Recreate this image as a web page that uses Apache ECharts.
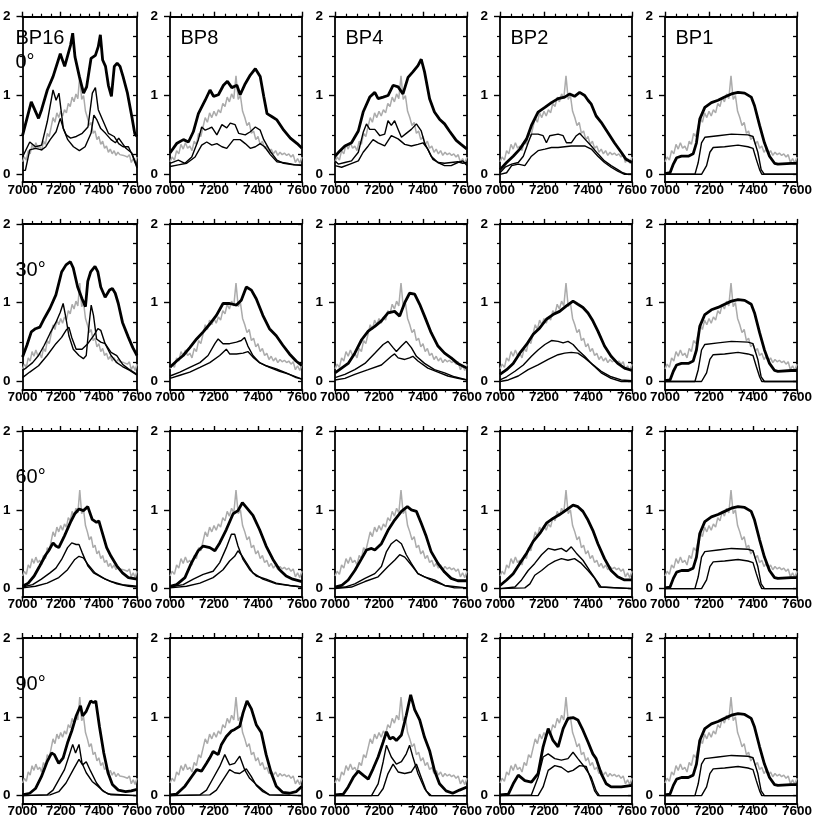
<!DOCTYPE html>
<html>
<head>
<meta charset="utf-8">
<script src="https://cdn.jsdelivr.net/npm/echarts@6/dist/echarts.min.js"></script>
<style>
html,body{margin:0;padding:0;background:#fff;}
#chart{width:830px;height:832px;}
</style>
</head>
<body>
<div id="chart"></div>
<script>
// ---------------- DATA ----------------
const xTicks = [7000, 7200, 7400, 7600];
const yTickLabels = [0, 1, 2];
const yMinorTicks = [0.25, 0.5, 0.75, 1.25, 1.5, 1.75];
const colTitles = ["BP16", "BP8", "BP4", "BP2", "BP1"];
const rowTitles = ["0°", "30°", "60°", "90°"];

// reference spectrum (gray), same in every panel
const gray = [[7000,0.16],[7010,0.22],[7020,0.18],[7030,0.30],[7040,0.26],[7050,0.38],[7060,0.32],[7070,0.40],[7080,0.33],[7090,0.36],
[7100,0.30],[7110,0.42],[7120,0.38],[7130,0.52],[7140,0.48],[7150,0.60],[7160,0.72],[7170,0.66],[7180,0.78],[7190,0.72],
[7200,0.80],[7210,0.74],[7220,0.82],[7230,0.78],[7240,0.90],[7250,0.86],[7260,0.98],[7270,0.92],[7280,1.02],[7290,0.96],
[7300,1.25],[7310,0.95],[7320,1.00],[7330,0.80],[7340,0.72],[7350,0.62],[7360,0.66],[7370,0.52],[7380,0.55],[7390,0.44],
[7400,0.48],[7410,0.38],[7420,0.42],[7430,0.33],[7440,0.36],[7450,0.28],[7460,0.32],[7470,0.26],[7480,0.30],[7490,0.24],
[7500,0.28],[7510,0.25],[7520,0.27],[7530,0.24],[7540,0.26],[7550,0.22],[7560,0.25],[7570,0.15],[7580,0.20],[7590,0.14],[7600,0.22]];

// Row 0 deg
const bp16_0_thick = [[7000,0.49],[7046,0.92],[7084,0.71],[7100,0.82],[7130,1.07],[7160,1.24],[7198,1.53],[7221,1.37],[7237,1.51],[7252,1.64],[7263,1.79],[7275,1.49],[7298,1.24],[7320,1.03],[7336,1.11],[7359,1.47],[7382,1.51],[7397,1.62],[7408,1.77],[7420,1.45],[7435,1.37],[7450,1.13],[7466,0.99],[7481,1.37],[7496,1.41],[7511,1.37],[7527,1.24],[7550,1.03],[7573,0.73],[7588,0.52],[7600,0.48]];
const bp16_0_a = [[7000,0.22],[7038,0.41],[7068,0.35],[7100,0.37],[7130,0.67],[7160,1.07],[7176,0.94],[7191,1.03],[7214,0.58],[7229,0.50],[7252,0.46],[7282,0.48],[7313,0.52],[7343,0.60],[7366,1.03],[7382,1.10],[7397,0.82],[7420,0.69],[7450,0.52],[7480,0.48],[7504,0.39],[7527,0.35],[7555,0.35],[7580,0.22],[7600,0.10]];
const bp16_0_b = [[7000,0.05],[7015,0.05],[7038,0.31],[7068,0.33],[7100,0.31],[7122,0.35],[7145,0.44],[7176,0.54],[7198,0.71],[7214,0.58],[7237,0.44],[7267,0.35],[7298,0.30],[7328,0.35],[7359,0.52],[7374,0.75],[7390,0.69],[7410,0.58],[7435,0.52],[7464,0.44],[7487,0.40],[7504,0.46],[7542,0.33],[7573,0.27],[7600,0.08]];

const bp8_0_thick = [[7000,0.27],[7030,0.39],[7061,0.44],[7084,0.41],[7106,0.54],[7129,0.77],[7160,0.94],[7182,1.07],[7198,0.99],[7220,1.01],[7243,1.13],[7261,1.18],[7281,1.10],[7304,1.13],[7319,1.01],[7342,1.15],[7365,1.26],[7388,1.34],[7410,1.24],[7426,0.99],[7441,0.77],[7464,0.73],[7486,0.69],[7517,0.56],[7547,0.46],[7578,0.39],[7600,0.33]];
const bp8_0_a = [[7000,0.14],[7038,0.18],[7068,0.14],[7099,0.22],[7129,0.44],[7144,0.60],[7160,0.56],[7176,0.58],[7190,0.60],[7213,0.50],[7236,0.63],[7258,0.59],[7274,0.65],[7296,0.63],[7312,0.52],[7342,0.50],[7365,0.54],[7388,0.60],[7410,0.56],[7426,0.44],[7456,0.29],[7486,0.18],[7517,0.14],[7562,0.12],[7600,0.12]];
const bp8_0_b = [[7000,0.10],[7038,0.12],[7076,0.14],[7114,0.22],[7144,0.37],[7167,0.41],[7190,0.37],[7213,0.39],[7236,0.35],[7258,0.33],[7289,0.44],[7319,0.44],[7342,0.39],[7365,0.33],[7388,0.35],[7410,0.39],[7430,0.35],[7456,0.25],[7486,0.16],[7532,0.14],[7570,0.12],[7600,0.11]];

const bp4_0_thick = [[7000,0.23],[7023,0.30],[7045,0.36],[7075,0.40],[7106,0.55],[7128,0.79],[7158,0.98],[7181,1.04],[7196,0.96],[7219,0.98],[7241,1.00],[7264,1.13],[7287,1.11],[7309,1.02],[7332,1.23],[7354,1.30],[7377,1.38],[7392,1.46],[7407,1.30],[7430,0.96],[7452,0.79],[7475,0.70],[7498,0.64],[7520,0.55],[7551,0.43],[7573,0.38],[7600,0.32]];
const bp4_0_a = [[7000,0.17],[7015,0.13],[7045,0.15],[7075,0.17],[7106,0.28],[7128,0.53],[7143,0.64],[7158,0.57],[7181,0.57],[7204,0.49],[7226,0.51],[7241,0.68],[7256,0.62],[7271,0.68],[7287,0.57],[7302,0.47],[7324,0.52],[7347,0.57],[7370,0.64],[7392,0.55],[7407,0.40],[7437,0.23],[7468,0.15],[7498,0.11],[7528,0.11],[7558,0.15],[7581,0.17],[7600,0.11]];
const bp4_0_b = [[7000,0.11],[7030,0.09],[7068,0.13],[7106,0.17],[7128,0.28],[7151,0.36],[7173,0.44],[7196,0.40],[7226,0.36],[7256,0.49],[7287,0.45],[7317,0.38],[7347,0.36],[7377,0.38],[7400,0.40],[7422,0.32],[7445,0.19],[7468,0.15],[7498,0.14],[7528,0.15],[7558,0.16],[7581,0.14],[7600,0.15]];

const bp2_0_thick = [[7000,0.06],[7030,0.15],[7060,0.23],[7090,0.32],[7121,0.45],[7143,0.62],[7173,0.79],[7204,0.85],[7234,0.91],[7264,0.96],[7294,0.98],[7317,1.02],[7339,0.99],[7362,1.04],[7385,1.00],[7400,0.94],[7415,0.89],[7437,0.74],[7460,0.66],[7490,0.53],[7520,0.40],[7551,0.28],[7573,0.19],[7600,0.15]];
const bp2_0_a = [[7000,0.02],[7023,0.09],[7053,0.13],[7083,0.15],[7106,0.23],[7128,0.40],[7143,0.51],[7173,0.51],[7196,0.49],[7211,0.40],[7226,0.49],[7264,0.51],[7287,0.49],[7302,0.40],[7324,0.40],[7347,0.49],[7362,0.52],[7385,0.45],[7415,0.36],[7445,0.26],[7475,0.17],[7505,0.11],[7535,0.06],[7558,0.02],[7581,0.0],[7600,0.0]];
const bp2_0_b = [[7000,0.0],[7030,0.02],[7053,0.11],[7083,0.13],[7113,0.11],[7143,0.23],[7173,0.30],[7204,0.32],[7234,0.34],[7264,0.34],[7294,0.35],[7324,0.36],[7354,0.36],[7385,0.36],[7415,0.32],[7445,0.23],[7475,0.15],[7505,0.09],[7535,0.04],[7566,0.0],[7600,0.0]];

// BP1 is the same at every angle
const bp1_thick = [[7000,0.01],[7023,0.02],[7038,0.13],[7053,0.21],[7075,0.23],[7106,0.23],[7128,0.26],[7143,0.40],[7158,0.70],[7181,0.85],[7211,0.91],[7241,0.94],[7271,0.98],[7302,1.02],[7332,1.04],[7362,1.03],[7392,0.98],[7407,0.87],[7430,0.62],[7452,0.40],[7475,0.23],[7498,0.14],[7513,0.13],[7573,0.14],[7600,0.14]];
const bp1_a = [[7000,0],[7136,0],[7151,0.15],[7166,0.40],[7181,0.47],[7241,0.49],[7302,0.51],[7377,0.50],[7400,0.48],[7422,0.28],[7437,0.06],[7452,0],[7600,0]];
const bp1_b = [[7000,0],[7166,0],[7189,0.11],[7204,0.28],[7219,0.34],[7271,0.35],[7332,0.37],[7377,0.35],[7400,0.33],[7415,0.19],[7430,0.06],[7440,0],[7600,0]];

// Row 30 deg
const bp16_30_thick = [[7000,0.31],[7023,0.46],[7046,0.63],[7068,0.67],[7091,0.69],[7114,0.80],[7144,0.93],[7175,1.10],[7205,1.39],[7228,1.48],[7251,1.52],[7266,1.44],[7289,1.20],[7312,1.05],[7330,0.95],[7342,1.27],[7357,1.39],[7380,1.46],[7395,1.39],[7410,1.20],[7433,1.07],[7456,1.16],[7471,1.18],[7486,1.12],[7502,0.99],[7524,0.75],[7555,0.56],[7578,0.43],[7600,0.33]];
const bp16_30_a = [[7000,0.14],[7023,0.18],[7053,0.24],[7084,0.33],[7114,0.46],[7144,0.61],[7175,0.75],[7198,0.88],[7213,0.99],[7228,0.80],[7243,0.58],[7266,0.41],[7296,0.33],[7319,0.29],[7334,0.33],[7350,0.75],[7360,0.97],[7372,0.84],[7388,0.54],[7410,0.50],[7433,0.48],[7464,0.37],[7494,0.33],[7524,0.22],[7555,0.16],[7600,0.09]];
const bp16_30_b = [[7000,0.05],[7038,0.12],[7084,0.20],[7129,0.33],[7175,0.48],[7205,0.56],[7228,0.65],[7243,0.69],[7258,0.56],[7281,0.41],[7312,0.41],[7342,0.48],[7372,0.58],[7395,0.67],[7410,0.65],[7433,0.48],[7464,0.33],[7494,0.24],[7524,0.19],[7562,0.14],[7600,0.08]];

const bp8_30_thick = [[7000,0.18],[7030,0.26],[7060,0.33],[7090,0.43],[7121,0.54],[7151,0.63],[7181,0.73],[7211,0.84],[7241,0.99],[7271,0.99],[7302,0.97],[7324,1.03],[7347,1.20],[7370,1.16],[7392,1.05],[7422,0.84],[7452,0.67],[7483,0.58],[7513,0.46],[7543,0.35],[7573,0.26],[7600,0.20]];
const bp8_30_a = [[7000,0.07],[7045,0.12],[7090,0.18],[7136,0.24],[7173,0.33],[7204,0.48],[7219,0.54],[7241,0.48],[7271,0.48],[7302,0.50],[7324,0.52],[7339,0.56],[7354,0.45],[7377,0.33],[7407,0.24],[7437,0.20],[7483,0.16],[7528,0.11],[7573,0.05],[7600,0.03]];
const bp8_30_b = [[7000,0.04],[7045,0.08],[7090,0.12],[7136,0.18],[7181,0.24],[7226,0.33],[7256,0.41],[7271,0.35],[7302,0.35],[7332,0.36],[7354,0.38],[7377,0.31],[7407,0.24],[7452,0.18],[7498,0.13],[7543,0.09],[7600,0.03]];

const bp4_30_thick = [[7000,0.11],[7030,0.17],[7060,0.23],[7090,0.36],[7121,0.53],[7151,0.64],[7181,0.70],[7211,0.77],[7241,0.87],[7271,0.89],[7294,0.83],[7317,1.00],[7339,1.12],[7362,1.11],[7385,0.98],[7407,0.83],[7437,0.62],[7468,0.45],[7498,0.36],[7528,0.30],[7558,0.23],[7600,0.17]];
const bp4_30_a = [[7000,0.05],[7045,0.09],[7090,0.15],[7136,0.23],[7181,0.36],[7219,0.47],[7241,0.51],[7264,0.43],[7279,0.38],[7302,0.45],[7324,0.51],[7347,0.43],[7370,0.32],[7407,0.23],[7452,0.15],[7498,0.11],[7543,0.06],[7600,0.02]];
const bp4_30_b = [[7000,0.02],[7045,0.04],[7090,0.09],[7151,0.15],[7211,0.21],[7256,0.32],[7271,0.35],[7287,0.30],[7317,0.28],[7339,0.30],[7354,0.32],[7377,0.26],[7422,0.17],[7468,0.12],[7513,0.07],[7558,0.04],[7600,0.02]];

const bp2_30_thick = [[7000,0.09],[7030,0.15],[7060,0.23],[7090,0.36],[7121,0.47],[7151,0.60],[7181,0.68],[7211,0.79],[7241,0.85],[7271,0.89],[7302,0.96],[7332,1.02],[7354,0.98],[7377,0.94],[7400,0.87],[7422,0.77],[7445,0.64],[7475,0.45],[7505,0.32],[7535,0.23],[7566,0.17],[7600,0.14]];
const bp2_30_a = [[7000,0.02],[7030,0.06],[7068,0.13],[7106,0.21],[7143,0.32],[7173,0.40],[7204,0.47],[7234,0.52],[7264,0.51],[7287,0.49],[7309,0.51],[7332,0.47],[7354,0.40],[7385,0.32],[7415,0.23],[7460,0.13],[7505,0.06],[7551,0.02],[7600,0.01]];
const bp2_30_b = [[7000,0.0],[7038,0.02],[7083,0.07],[7128,0.15],[7173,0.21],[7219,0.28],[7264,0.34],[7294,0.36],[7324,0.37],[7354,0.36],[7385,0.30],[7415,0.23],[7460,0.11],[7505,0.04],[7551,0.0],[7600,0.0]];

// Row 60 deg
const bp16_60_thick = [[7000,0.03],[7030,0.07],[7061,0.16],[7091,0.29],[7122,0.43],[7137,0.48],[7160,0.58],[7175,0.54],[7190,0.52],[7220,0.67],[7251,0.84],[7274,0.95],[7296,1.01],[7319,0.99],[7342,1.04],[7365,0.88],[7388,0.84],[7400,0.86],[7418,0.71],[7441,0.52],[7464,0.41],[7494,0.29],[7524,0.20],[7555,0.14],[7600,0.12]];
const bp16_60_a = [[7000,0.02],[7053,0.05],[7099,0.12],[7144,0.20],[7175,0.26],[7205,0.37],[7236,0.52],[7258,0.58],[7281,0.56],[7296,0.56],[7312,0.46],[7342,0.29],[7372,0.20],[7418,0.14],[7464,0.09],[7524,0.05],[7600,0.03]];
const bp16_60_b = [[7000,0.01],[7068,0.03],[7129,0.07],[7190,0.14],[7236,0.24],[7274,0.37],[7296,0.41],[7319,0.39],[7342,0.31],[7380,0.20],[7433,0.12],[7494,0.06],[7555,0.03],[7600,0.02]];

const bp8_60_thick = [[7000,0.03],[7030,0.05],[7068,0.14],[7098,0.33],[7128,0.48],[7151,0.54],[7181,0.52],[7204,0.48],[7226,0.58],[7256,0.75],[7287,0.95],[7309,0.99],[7329,1.09],[7347,1.03],[7377,0.93],[7407,0.75],[7437,0.54],[7468,0.37],[7498,0.24],[7528,0.16],[7558,0.12],[7600,0.09]];
const bp8_60_a = [[7000,0.02],[7060,0.05],[7106,0.12],[7151,0.18],[7196,0.22],[7226,0.33],[7256,0.52],[7279,0.69],[7294,0.69],[7309,0.54],[7332,0.37],[7362,0.24],[7392,0.16],[7437,0.12],[7483,0.07],[7543,0.04],[7600,0.02]];
const bp8_60_b = [[7000,0.01],[7075,0.03],[7136,0.07],[7196,0.14],[7241,0.24],[7271,0.35],[7294,0.41],[7309,0.48],[7324,0.43],[7347,0.33],[7377,0.20],[7422,0.12],[7483,0.06],[7600,0.02]];

const bp4_60_thick = [[7000,0.02],[7030,0.04],[7060,0.11],[7090,0.23],[7121,0.38],[7143,0.49],[7166,0.51],[7181,0.49],[7211,0.57],[7241,0.74],[7271,0.87],[7302,0.98],[7329,1.04],[7347,1.00],[7370,0.98],[7392,0.83],[7415,0.66],[7437,0.47],[7468,0.32],[7498,0.21],[7528,0.13],[7558,0.10],[7600,0.10]];
const bp4_60_a = [[7000,0.01],[7045,0.02],[7090,0.06],[7136,0.13],[7181,0.19],[7211,0.28],[7234,0.47],[7256,0.57],[7279,0.62],[7302,0.57],[7324,0.43],[7347,0.32],[7377,0.19],[7407,0.15],[7452,0.11],[7498,0.04],[7543,0.01],[7600,0.01]];
const bp4_60_b = [[7000,0.0],[7075,0.02],[7136,0.09],[7196,0.15],[7241,0.28],[7271,0.36],[7294,0.43],[7317,0.40],[7347,0.30],[7377,0.19],[7407,0.15],[7452,0.09],[7498,0.04],[7600,0.01]];

const bp2_60_thick = [[7000,0.04],[7030,0.11],[7060,0.19],[7090,0.32],[7121,0.45],[7151,0.60],[7181,0.70],[7211,0.83],[7241,0.89],[7271,0.94],[7302,1.00],[7332,1.06],[7354,1.04],[7377,0.98],[7400,0.87],[7422,0.74],[7445,0.57],[7475,0.38],[7505,0.23],[7535,0.15],[7566,0.11],[7600,0.11]];
const bp2_60_a = [[7000,0.0],[7068,0.02],[7098,0.11],[7128,0.23],[7158,0.32],[7189,0.43],[7219,0.51],[7249,0.49],[7279,0.51],[7302,0.47],[7324,0.53],[7347,0.45],[7377,0.36],[7407,0.23],[7437,0.11],[7460,0.02],[7600,0.0]];
const bp2_60_b = [[7000,0.0],[7113,0.01],[7136,0.06],[7158,0.17],[7189,0.23],[7219,0.30],[7249,0.35],[7279,0.38],[7309,0.36],[7339,0.38],[7370,0.32],[7400,0.23],[7430,0.13],[7452,0.02],[7600,0.0]];

// Row 90 deg
const bp16_90_thick = [[7000,0.01],[7038,0.03],[7068,0.09],[7099,0.24],[7129,0.43],[7152,0.54],[7167,0.52],[7190,0.41],[7213,0.48],[7236,0.67],[7258,0.82],[7281,1.01],[7304,1.14],[7315,1.01],[7334,1.07],[7357,1.20],[7372,1.18],[7384,1.20],[7403,0.88],[7426,0.54],[7448,0.29],[7471,0.14],[7502,0.07],[7540,0.05],[7570,0.06],[7600,0.08]];
const bp16_90_a = [[7000,0.0],[7129,0.01],[7160,0.07],[7190,0.20],[7220,0.33],[7243,0.50],[7263,0.65],[7278,0.54],[7296,0.65],[7312,0.41],[7334,0.29],[7365,0.18],[7395,0.12],[7426,0.05],[7464,0.01],[7600,0.0]];
const bp16_90_b = [[7000,0.0],[7144,0.01],[7190,0.05],[7228,0.16],[7266,0.33],[7296,0.46],[7315,0.39],[7334,0.43],[7357,0.31],[7388,0.16],[7418,0.07],[7448,0.02],[7600,0.0]];

const bp8_90_thick = [[7000,0.01],[7030,0.02],[7068,0.12],[7098,0.24],[7121,0.33],[7143,0.31],[7166,0.41],[7181,0.48],[7196,0.56],[7219,0.52],[7234,0.65],[7256,0.75],[7279,0.82],[7294,0.84],[7317,0.88],[7332,1.05],[7350,1.20],[7370,1.10],[7392,0.90],[7415,0.80],[7437,0.52],[7460,0.29],[7483,0.12],[7513,0.04],[7543,0.03],[7573,0.05],[7600,0.12]];
const bp8_90_a = [[7000,0.0],[7136,0.01],[7166,0.07],[7196,0.22],[7226,0.37],[7249,0.52],[7271,0.39],[7294,0.41],[7317,0.50],[7339,0.33],[7362,0.22],[7392,0.14],[7422,0.07],[7452,0.01],[7600,0.0]];
const bp8_90_b = [[7000,0.0],[7181,0.01],[7211,0.07],[7241,0.20],[7271,0.33],[7294,0.29],[7317,0.28],[7347,0.34],[7370,0.24],[7392,0.13],[7422,0.05],[7452,0.01],[7600,0.0]];

const bp4_90_thick = [[7000,0.01],[7038,0.02],[7060,0.11],[7083,0.23],[7106,0.31],[7128,0.26],[7151,0.21],[7173,0.34],[7196,0.49],[7219,0.68],[7234,0.81],[7249,0.72],[7264,0.74],[7279,0.70],[7302,0.77],[7324,1.02],[7344,1.28],[7362,1.09],[7385,0.96],[7407,0.74],[7430,0.57],[7452,0.32],[7475,0.15],[7505,0.06],[7535,0.03],[7566,0.07],[7600,0.11]];
const bp4_90_a = [[7000,0.0],[7166,0.0],[7196,0.15],[7219,0.43],[7234,0.64],[7256,0.49],[7279,0.40],[7302,0.43],[7324,0.53],[7339,0.64],[7354,0.49],[7377,0.28],[7407,0.09],[7430,0.0],[7600,0.0]];
const bp4_90_b = [[7000,0.0],[7196,0.0],[7219,0.09],[7241,0.28],[7264,0.40],[7287,0.30],[7317,0.28],[7347,0.30],[7370,0.40],[7392,0.23],[7415,0.06],[7437,0.0],[7600,0.0]];

const bp2_90_thick = [[7000,0.01],[7038,0.02],[7060,0.15],[7083,0.26],[7113,0.19],[7143,0.17],[7173,0.28],[7196,0.62],[7219,0.85],[7241,0.70],[7264,0.62],[7287,0.85],[7309,0.98],[7332,0.99],[7354,0.96],[7377,0.83],[7400,0.68],[7422,0.53],[7437,0.47],[7460,0.28],[7483,0.15],[7505,0.11],[7551,0.11],[7600,0.13]];
const bp2_90_a = [[7000,0.0],[7143,0.01],[7173,0.23],[7196,0.49],[7219,0.53],[7249,0.47],[7279,0.45],[7309,0.47],[7332,0.55],[7354,0.47],[7385,0.36],[7415,0.23],[7437,0.06],[7452,0.0],[7600,0.0]];
const bp2_90_b = [[7000,0.0],[7173,0.0],[7196,0.11],[7219,0.32],[7249,0.38],[7279,0.36],[7309,0.30],[7332,0.32],[7362,0.38],[7392,0.37],[7415,0.19],[7430,0.06],[7445,0.0],[7600,0.0]];

const panels = [
  [[bp16_0_thick,bp16_0_a,bp16_0_b],[bp8_0_thick,bp8_0_a,bp8_0_b],[bp4_0_thick,bp4_0_a,bp4_0_b],[bp2_0_thick,bp2_0_a,bp2_0_b],[bp1_thick,bp1_a,bp1_b]],
  [[bp16_30_thick,bp16_30_a,bp16_30_b],[bp8_30_thick,bp8_30_a,bp8_30_b],[bp4_30_thick,bp4_30_a,bp4_30_b],[bp2_30_thick,bp2_30_a,bp2_30_b],[bp1_thick,bp1_a,bp1_b]],
  [[bp16_60_thick,bp16_60_a,bp16_60_b],[bp8_60_thick,bp8_60_a,bp8_60_b],[bp4_60_thick,bp4_60_a,bp4_60_b],[bp2_60_thick,bp2_60_a,bp2_60_b],[bp1_thick,bp1_a,bp1_b]],
  [[bp16_90_thick,bp16_90_a,bp16_90_b],[bp8_90_thick,bp8_90_a,bp8_90_b],[bp4_90_thick,bp4_90_a,bp4_90_b],[bp2_90_thick,bp2_90_a,bp2_90_b],[bp1_thick,bp1_a,bp1_b]]
];

// ---------------- LAYOUT ----------------
const COL_LEFT = [5, 170, 335, 500, 665];
const ROW_TOP = [16.7, 223.9, 431, 638];
const PW = 132, PH = 165.5;
const FONT = "'Liberation Sans', Arial, Helvetica, sans-serif";

const grid = [], xAxis = [], yAxis = [], series = [], title = [];
let gi = 0;
for (let r = 0; r < 4; r++) {
  for (let c = 0; c < 5; c++) {
    grid.push({ left: COL_LEFT[c], top: ROW_TOP[r], width: PW, height: PH, containLabel: false });
    const axisLine = { show: true, onZero: false, lineStyle: { color: '#000', width: 1.8 } };
    const baseX = {
      gridIndex: gi, type: 'value', min: xTicks[0], max: xTicks[xTicks.length - 1], interval: 200,
      axisLine: axisLine, splitLine: { show: false },
      axisTick: { show: true, length: 5, lineStyle: { color: '#000', width: 1.4 } },
      minorTick: { show: true, splitNumber: 4, length: 3, lineStyle: { color: '#000', width: 1.2 } }
    };
    xAxis.push(Object.assign({}, baseX, { position: 'bottom',
      axisLabel: { show: true, margin: 1, color: '#000', fontSize: 13.5, fontWeight: 'bold', fontFamily: FONT,
                   showMinLabel: true, showMaxLabel: true, formatter: function (v) { return String(v); } } }));
    xAxis.push(Object.assign({}, baseX, { position: 'top', axisLabel: { show: false } }));
    // left major
    yAxis.push({ gridIndex: gi, type: 'value', position: 'left', min: -0.1, max: 2,
      axisLine: axisLine, splitLine: { show: false },
      axisTick: { show: true, length: 6, customValues: yTickLabels, lineStyle: { color: '#000', width: 1.4 } },
      axisLabel: { show: true, customValues: yTickLabels, margin: 12, color: '#000', fontSize: 13.5, fontWeight: 'bold', fontFamily: FONT,
                   formatter: function (v) { return String(v); } } });
    // left minor
    yAxis.push({ gridIndex: gi, type: 'value', position: 'left', min: -0.1, max: 2,
      axisLine: { show: false }, splitLine: { show: false },
      axisTick: { show: true, length: 3, customValues: yMinorTicks, lineStyle: { color: '#000', width: 1.2 } },
      axisLabel: { show: false } });
    // right (inside)
    yAxis.push({ gridIndex: gi, type: 'value', position: 'right', min: -0.1, max: 2,
      axisLine: axisLine, splitLine: { show: false },
      axisTick: { show: true, inside: true, length: 4, customValues: yTickLabels.concat(yMinorTicks), lineStyle: { color: '#000', width: 1.3 } },
      axisLabel: { show: false } });

    const [thick, a, b] = panels[r][c];
    const common = { type: 'line', xAxisIndex: 2 * gi, yAxisIndex: 3 * gi, showSymbol: false, symbol: 'none', silent: true, animation: false };
    series.push(Object.assign({}, common, { data: gray, lineStyle: { color: '#ababab', width: 1.5 }, z: 2 }));
    series.push(Object.assign({}, common, { data: b, lineStyle: { color: '#000', width: 1.4 }, z: 3 }));
    series.push(Object.assign({}, common, { data: a, lineStyle: { color: '#000', width: 1.4 }, z: 3 }));
    series.push(Object.assign({}, common, { data: thick, lineStyle: { color: '#000', width: 2.8 }, z: 4 }));

    // titles
    let txt = null, top = ROW_TOP[r] + 10.5;
    if (r === 0 && c === 0) txt = colTitles[0] + '\n' + rowTitles[0];
    else if (r === 0) txt = colTitles[c];
    else if (c === 0) { txt = rowTitles[r]; top = ROW_TOP[r] + 34.5; }
    if (txt) {
      title.push({ text: txt, left: COL_LEFT[c] + 10.5, top: top, padding: 0,
        textStyle: { fontFamily: FONT, fontSize: 20, fontWeight: 'normal', color: '#000', lineHeight: 23.5 } });
    }
    gi++;
  }
}

const chart = echarts.init(document.getElementById('chart'), null, { renderer: 'canvas' });
chart.setOption({ animation: false, backgroundColor: '#fff', title, grid, xAxis, yAxis, series });
</script>
</body>
</html>
